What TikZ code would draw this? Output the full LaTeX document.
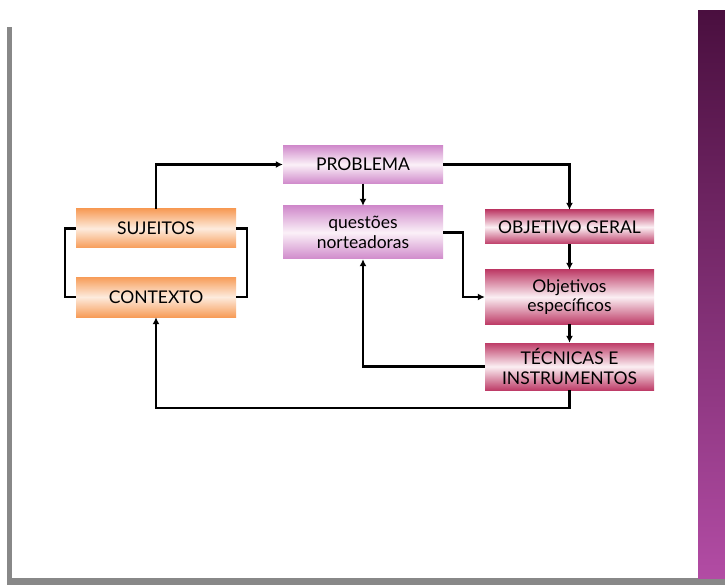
\documentclass[tikz,border=0pt]{standalone}
\usepackage{fontspec}
\setmainfont{Lato}
\usetikzlibrary{arrows.meta}
\definecolor{grayframe}{HTML}{888888}
\definecolor{stripTop}{HTML}{4A0F3F}
\definecolor{stripBot}{HTML}{B24CA4}
\definecolor{orEdge}{HTML}{F79C58}
\definecolor{orMid}{HTML}{FDEBDD}
\definecolor{lvEdge}{HTML}{D08ACB}
\definecolor{lvMid}{HTML}{FBF1F8}
\definecolor{crEdge}{HTML}{BE3D68}
\definecolor{crMid}{HTML}{FBEFF3}
\tikzset{
  box/.style={rectangle, draw=none, align=center, inner sep=1pt, font=\fontsize{17.5}{19.5}\selectfont, text=black},
  orbox/.style={box, top color=orEdge, bottom color=orEdge, middle color=orMid, minimum width=160pt},
  lvbox/.style={box, top color=lvEdge, bottom color=lvEdge, middle color=lvMid, minimum width=160pt},
  crbox/.style={box, top color=crEdge, bottom color=crEdge, middle color=crMid, minimum width=169pt},
  conn/.style={line width=2.4pt, black},
  arr/.style={conn, -{Latex[length=7pt,width=7pt]}}
}
\begin{document}
\begin{tikzpicture}[x=1pt,y=-1pt]
\fill[white] (0,0) rectangle (725,585);
\useasboundingbox (0,0) rectangle (725,585);
% frame
\fill[grayframe] (7,27) rectangle (12,585);
\fill[grayframe] (7,578) rectangle (725,585);
\shade[top color=stripTop, bottom color=stripBot] (698,11) rectangle (725,578);
% nodes
\node[lvbox, minimum height=38pt] (prob) at (363,164.5) {PROBLEMA};
\node[lvbox, minimum height=53pt] (q) at (363,232.5) {questões\\norteadoras};
\node[orbox, minimum height=39pt] (suj) at (156,228.5) {SUJEITOS};
\node[orbox, minimum height=40pt] (ctx) at (156,297) {CONTEXTO};
\node[crbox, minimum height=34pt] (og) at (569.5,227) {OBJETIVO GERAL};
\node[crbox, minimum height=54pt] (oe) at (569.5,297) {Objetivos\\específicos};
\node[crbox, minimum height=47pt] (tec) at (569.5,366.5) {TÉCNICAS E\\INSTRUMENTOS};
% connectors
\draw[arr] (suj.north) |- (prob.west);
\draw[conn] (suj.west) -- ++(-11,0) |- (ctx.west);
\draw[conn] (suj.east) -- ++(11,0) |- (ctx.east);
\draw[arr] (prob.east) -| (og.north);
\draw[arr] (prob.south) -- (q.north);
\draw[arr] (q.east) -- ++(20,0) |- (oe.west);
\draw[arr] (og.south) -- (oe.north);
\draw[arr] (oe.south) -- (tec.north);
\draw[arr] (tec.west) -| (q.south);
\draw[arr] (tec.south) -- ++(0,18) -| (ctx.south);
\end{tikzpicture}
\end{document}
